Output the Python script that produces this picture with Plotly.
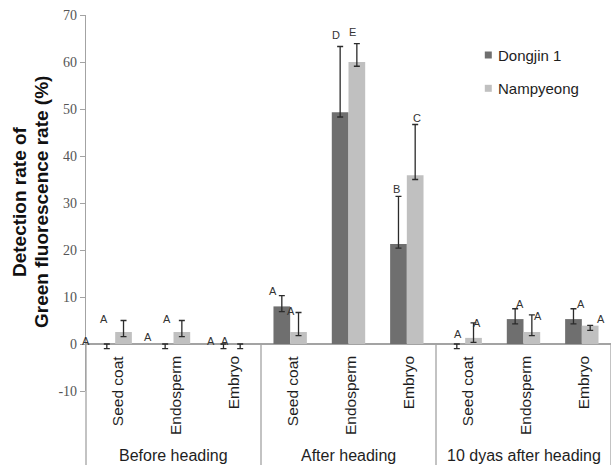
import plotly.graph_objects as go

# ---------------- data ----------------
subcategories = ["Seed coat", "Endosperm", "Embryo",
                 "Seed coat", "Endosperm", "Embryo",
                 "Seed coat", "Endosperm", "Embryo"]
groups = ["Before heading", "After heading", "10 dyas after heading"]
series_names = ["Dongjin 1", "Nampyeong"]

dongjin = [0, 0, 0, 8.0, 49.3, 21.3, 0, 5.3, 5.3]
dongjin_err_plus = [0, 0, 0, 2.3, 14.0, 10.1, 0, 2.2, 2.2]
dongjin_err_minus = [1.0, 1.0, 1.0, 1.1, 1.0, 0.9, 1.0, 1.0, 1.0]

nampyeong = [2.55, 2.55, 0, 2.55, 60.0, 35.9, 1.3, 2.55, 3.9]
nampyeong_err_plus = [2.45, 2.45, 0, 4.15, 3.9, 10.8, 3.2, 3.65, 0.05]
nampyeong_err_minus = [1.0, 1.0, 1.0, 0.75, 0.9, 0.9, 0.95, 0.75, 1.0]

letters_dongjin = ["A", "A", "A", "A", "D", "B", "A", "A", "A"]
letters_nampyeong = ["A", "A", "A", "A", "E", "C", "A", "A", "A"]

y_ticks = [-10, 0, 10, 20, 30, 40, 50, 60, 70]
y_tick_labels = ["-10", "0", "10", "20", "30", "40", "50", "60", "70"]

# ---------------- layout / style ----------------
W, H = 611, 465
M_L, M_R, M_T, M_B = 86, 0, 15, 74
Y_MIN, Y_MAX = -10, 70
PLOT_H = H - M_T - M_B
PLOT_W = W - M_L - M_R
BARGAP = 0.4274
OFF = (1 - BARGAP) / 4  # offset of each bar centre from category centre

DARK = "#6f6f6f"
LIGHT = "#c0c0c0"
AXIS = "#a3a3a3"
ERR = "#2b2b2b"
SANS = "Arial, Liberation Sans, sans-serif"
SERIF = "Liberation Serif, Times New Roman, serif"

# letter label offsets in px (xshift, yshift) relative to the top of each error bar
letter_shift_d = [(-21, 2.6), (-17, 6.6), (-12.5, 2.6), (-9, 4.2), (-4, 11),
                  (-2, 7.4), (1.5, 10.3), (5, 5), (8, 5)]
letter_shift_n = [(-19.6, 1.8), (-15, 1.8), (-15, 2.6), (-8, 2), (-4, 11.3),
                  (1.6, 7), (3, 0), (6.5, -1.5), (10.5, 6.7)]

x_idx = list(range(len(subcategories)))

fig = go.Figure()
for name, vals, ep, em, col in [
    (series_names[0], dongjin, dongjin_err_plus, dongjin_err_minus, DARK),
    (series_names[1], nampyeong, nampyeong_err_plus, nampyeong_err_minus, LIGHT),
]:
    fig.add_trace(go.Bar(
        x=x_idx, y=vals, name=name, marker=dict(color=col, line=dict(width=0)),
        error_y=dict(type="data", symmetric=False, array=ep, arrayminus=em,
                     color=ERR, thickness=1.3, width=3),
        showlegend=False,
    ))

def ypaper(v):
    return (v - Y_MIN) / (Y_MAX - Y_MIN)

def py2paper(py):
    return (M_T + PLOT_H - py) / PLOT_H

def px2paper(px):
    return (px - M_L) / PLOT_W

zero_p = ypaper(0)
bottom_p = -M_B / PLOT_H
n = len(subcategories)

shapes = []
# group separators of the category axis
for b in [0, 3, 6, 9]:
    xp = b / n
    shapes.append(dict(type="line", xref="paper", yref="paper",
                       x0=xp, x1=xp, y0=zero_p, y1=bottom_p,
                       line=dict(color=AXIS, width=1.3)))

annotations = []
# sub-category labels (rotated)
for i, lab in enumerate(subcategories):
    annotations.append(dict(x=i, xref="x", y=zero_p - 10 / PLOT_H, yref="paper",
                            text=lab, textangle=-90, showarrow=False,
                            xanchor="center", yanchor="top", xshift=2,
                            font=dict(family=SANS, size=15.5, color="#1e1e1e")))
# group labels
for g, lab in enumerate(groups):
    annotations.append(dict(x=(g * 3 + 1.5) / n, xref="paper",
                            y=py2paper(455), yref="paper",
                            text=lab, showarrow=False, xanchor="center", yanchor="middle",
                            font=dict(family=SANS, size=16, color="#1e1e1e")))
# y-axis title (two lines)
for txt, px in [("Detection rate of", 19), ("Green fluorescence rate (%)", 41)]:
    annotations.append(dict(x=px2paper(px), xref="paper",
                            y=py2paper(202), yref="paper",
                            text=txt, textangle=-90, showarrow=False,
                            xanchor="center", yanchor="middle",
                            font=dict(family=SANS, size=19, color="#111", weight="bold")))
# significance letters
for vals, ep, letters, shifts, sgn in [
    (dongjin, dongjin_err_plus, letters_dongjin, letter_shift_d, -1),
    (nampyeong, nampyeong_err_plus, letters_nampyeong, letter_shift_n, 1),
]:
    for i in x_idx:
        annotations.append(dict(x=i + sgn * OFF, xref="x", y=vals[i] + ep[i], yref="y",
                                text=letters[i], showarrow=False,
                                xanchor="center", yanchor="middle",
                                xshift=shifts[i][0], yshift=shifts[i][1],
                                font=dict(family=SANS, size=11, color="#333")))
# legend (custom)
for name, col, py in [(series_names[0], DARK, 55), (series_names[1], LIGHT, 88.3)]:
    yp = py2paper(py)
    xp = px2paper(488.3)
    hx = 3.5 / PLOT_W
    hy = 3.5 / PLOT_H
    shapes.append(dict(type="rect", xref="paper", yref="paper",
                       x0=xp - hx, x1=xp + hx, y0=yp - hy, y1=yp + hy,
                       fillcolor=col, line=dict(width=0)))
    annotations.append(dict(x=px2paper(496), xref="paper", y=yp, yref="paper",
                            text=name, showarrow=False, xanchor="left", yanchor="middle",
                            font=dict(family=SANS, size=15, color="#1e1e1e")))

fig.update_layout(
    width=W, height=H,
    margin=dict(l=M_L, r=M_R, t=M_T, b=M_B, pad=0),
    paper_bgcolor="white", plot_bgcolor="white",
    barmode="group", bargap=BARGAP, bargroupgap=0,
    xaxis=dict(range=[-0.5, n - 0.5], showticklabels=False, ticks="",
               showline=False, showgrid=False, zeroline=False, fixedrange=True),
    yaxis=dict(range=[Y_MIN, Y_MAX], tickvals=y_ticks, ticktext=y_tick_labels,
               ticks="outside", ticklen=5,
               tickcolor=AXIS, showline=True, linecolor=AXIS, linewidth=1.3,
               showgrid=False, zeroline=True, zerolinecolor=AXIS, zerolinewidth=1.5,
               tickfont=dict(family=SERIF, size=14, color="#555"), fixedrange=True),
    shapes=shapes, annotations=annotations,
)

fig.write_html("out.html",
               config={"displayModeBar": False},
               post_script="document.body.style.margin='0';document.body.style.overflow='hidden';")
